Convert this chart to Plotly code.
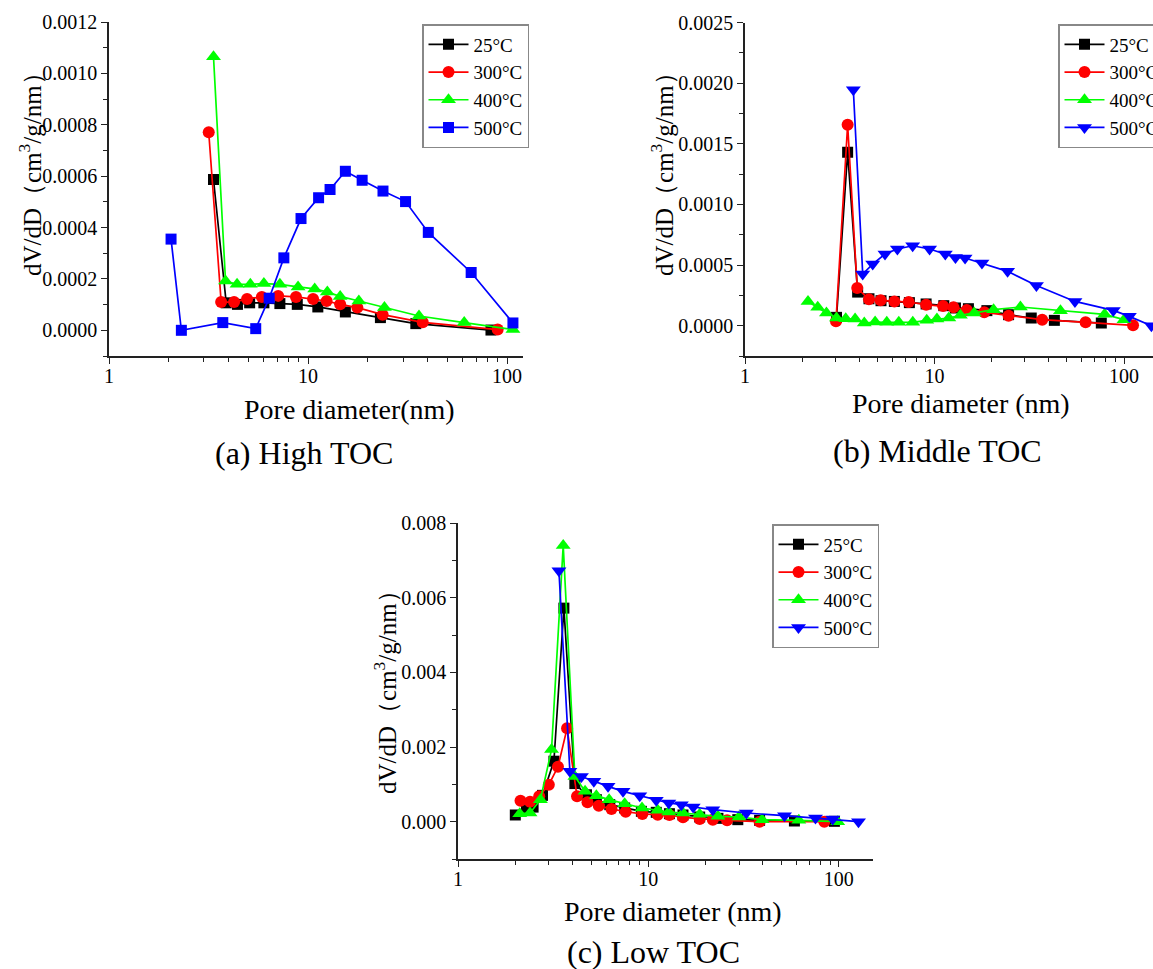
import plotly.graph_objects as go

W, H = 1153, 969
FONT = "Liberation Serif"
temps = ["25°C", "300°C", "400°C", "500°C"]
colors = ["#000000", "#FF0000", "#00FF00", "#0000FF"]

# ---------- (a) High TOC ----------
a_x_25 = [3.35, 3.88, 4.42, 5.09, 6.0, 7.22, 8.83, 11.2, 15.4, 23.1, 34.8, 83]
a_y_25 = [0.000587, 0.000107, 0.000101, 0.000107, 0.000107, 0.000104, 0.000101, 0.0000909, 0.0000714, 0.0000494, 0.000026, 0.000001]
a_x_300 = [3.17, 3.66, 4.25, 4.94, 5.86, 7.08, 8.7, 10.6, 12.4, 14.5, 17.7, 23.7, 37.7, 89.7]
a_y_300 = [0.000771, 0.00011, 0.00011, 0.000122, 0.00013, 0.000134, 0.00013, 0.000122, 0.000114, 0.000101, 0.0000883, 0.000061, 0.000031, 0.000003]
a_x_400 = [3.35, 3.85, 4.40, 5.13, 6.0, 7.22, 8.91, 10.8, 12.5, 14.5, 18.0, 24.2, 36.1, 60.9, 107]
a_y_400 = [0.001065, 0.000192, 0.000179, 0.000179, 0.000182, 0.000179, 0.000169, 0.000161, 0.000149, 0.000132, 0.000114, 0.0000883, 0.0000558, 0.00003, 0.000003]
a_x_500 = [2.05, 2.31, 3.73, 5.46, 6.38, 7.56, 9.22, 11.3, 12.9, 15.4, 18.7, 23.8, 30.9, 40.2, 66, 107]
a_y_500 = [0.000355, 0.0000, 0.00003, 0.0000065, 0.000125, 0.000282, 0.000435, 0.000516, 0.000548, 0.000619, 0.000584, 0.000542, 0.000501, 0.000381, 0.000225, 0.0000286]

# ---------- (b) Middle TOC ----------
b_x_25 = [3.04, 3.48, 3.93, 4.51, 5.22, 6.14, 7.37, 9.03, 11.2, 12.9, 15.1, 18.9, 24.6, 32.4, 42.9, 75.9]
b_y_25 = [0.0000687, 0.00143, 0.000277, 0.000222, 0.000206, 0.0002, 0.00019, 0.000179, 0.000165, 0.000146, 0.00014, 0.000124, 0.0000907, 0.0000632, 0.000044, 0.000022]
b_x_300 = [3.02, 3.48, 3.91, 4.51, 5.2, 6.14, 7.31, 9.03, 11.1, 12.6, 14.8, 18.3, 24.6, 37, 62.7, 111.6]
b_y_300 = [0.0000357, 0.001657, 0.00031, 0.000217, 0.000209, 0.0002, 0.000195, 0.000173, 0.000162, 0.000151, 0.000129, 0.00011, 0.0000824, 0.0000495, 0.0000275, 0.0000027]
b_x_400 = [2.15, 2.42, 2.69, 3.04, 3.4, 3.81, 4.26, 4.86, 5.6, 6.48, 7.68, 9.1, 10.3, 11.9, 13.7, 16.2, 20.5, 28.4, 46.2, 79, 100]
b_y_400 = [0.0002, 0.000151, 0.000104, 0.0000632, 0.0000577, 0.000055, 0.000022, 0.00003, 0.0000275, 0.0000275, 0.0000275, 0.000044, 0.000055, 0.000063, 0.000085, 0.000104, 0.000132, 0.000154, 0.000124, 0.0000934, 0.0000495]
b_x_500 = [3.73, 4.18, 4.72, 5.48, 6.37, 7.67, 9.42, 11.4, 12.9, 14.5, 17.8, 24.3, 34.5, 55.1, 87.8, 106.7, 139.5]
b_y_500 = [0.001945, 0.000426, 0.000508, 0.000591, 0.000632, 0.000659, 0.000632, 0.000591, 0.000563, 0.000558, 0.000516, 0.000448, 0.000332, 0.0002, 0.000126, 0.0000769, 0.0]

# ---------- (c) Low TOC ----------
c_x_25 = [2.0, 2.29, 2.48, 2.78, 3.19, 3.6, 4.11, 4.73, 5.33, 6.27, 7.51, 9.19, 11.0, 12.9, 15.2, 18.6, 23.2, 29.5, 38.4, 58.5, 94.9]
c_y_25 = [0.000179, 0.00032, 0.00039, 0.000705, 0.00162, 0.00572, 0.00102, 0.00072, 0.00059, 0.000455, 0.000366, 0.000277, 0.00025, 0.000214, 0.000179, 0.000125, 0.0000893, 0.0000536, 0.0000357, 0.0000179, 0.0000089]
c_x_300 = [2.13, 2.39, 2.67, 3.0, 3.35, 3.74, 4.22, 4.79, 5.49, 6.4, 7.6, 9.3, 11.2, 12.9, 15.2, 18.6, 21.8, 25.9, 38.4, 84]
c_y_300 = [0.000563, 0.000536, 0.000679, 0.000991, 0.00147, 0.0025, 0.000679, 0.000518, 0.000429, 0.000339, 0.000268, 0.000205, 0.000188, 0.000179, 0.000116, 0.0000714, 0.0000536, 0.0000357, 0.0, 0.0]
c_x_400 = [2.11, 2.39, 2.71, 3.1, 3.57, 4.11, 4.65, 5.33, 6.22, 7.51, 9.26, 11.2, 12.8, 15.2, 18.6, 23.2, 29.9, 39.6, 61.7, 98.8]
c_y_400 = [0.000214, 0.000232, 0.000589, 0.00193, 0.0074, 0.00121, 0.000813, 0.000696, 0.000589, 0.000482, 0.000366, 0.000304, 0.000259, 0.000232, 0.000196, 0.000143, 0.000125, 0.0000536, 0.0000357, 0.0]
c_x_500 = [3.39, 3.87, 4.45, 5.17, 6.14, 7.36, 9.01, 11.0, 12.8, 14.9, 17.2, 21.8, 32.7, 51.9, 75.5, 93.0, 127]
c_y_500 = [0.00672, 0.00135, 0.00121, 0.00108, 0.000946, 0.000813, 0.000696, 0.000571, 0.0005, 0.000455, 0.000393, 0.000321, 0.000232, 0.000161, 0.0000982, 0.0000714, 0.0]

panels = [
    dict(xs=[a_x_25, a_x_300, a_x_400, a_x_500], ys=[a_y_25, a_y_300, a_y_400, a_y_500],
         symbols=["square", "circle", "triangle-up", "square"]),
    dict(xs=[b_x_25, b_x_300, b_x_400, b_x_500], ys=[b_y_25, b_y_300, b_y_400, b_y_500],
         symbols=["square", "circle", "triangle-up", "triangle-down"]),
    dict(xs=[c_x_25, c_x_300, c_x_400, c_x_500], ys=[c_y_25, c_y_300, c_y_400, c_y_500],
         symbols=["square", "circle", "triangle-up", "triangle-down"]),
]
msize = {"square": 11, "circle": 12, "triangle-up": 13, "triangle-down": 13}

fig = go.Figure()
for p, panel in enumerate(panels):
    sfx = "" if p == 0 else str(p + 1)
    for i in range(4):
        sym = panel["symbols"][i]
        fig.add_trace(go.Scatter(
            x=panel["xs"][i], y=panel["ys"][i], name=temps[i],
            mode="lines+markers",
            line=dict(color=colors[i], width=1.7),
            marker=dict(symbol=sym, size=msize[sym], color=colors[i]),
            xaxis="x" + sfx, yaxis="y" + sfx,
            legend="legend" + sfx,
        ))

def px2x(px):
    return px / W

def py2y(py):
    return 1 - py / H

axis_common = dict(showline=True, linecolor="#222", linewidth=1.5, ticks="outside",
                   ticklen=6, tickwidth=1.3, tickcolor="#222", showgrid=False, zeroline=False,
                   tickfont=dict(family=FONT, size=20, color="black"))

def xaxis(dom, rng, anchor):
    d = dict(axis_common)
    d.update(type="log", domain=dom, range=rng, anchor=anchor, dtick=1,
             ticklabelstandoff=-5,
             minor=dict(ticks="outside", ticklen=4, dtick="D1", tickcolor="#222", showgrid=False))
    return d

def yaxis(dom, rng, dtick, fmt, anchor):
    d = dict(axis_common)
    d.update(domain=dom, range=rng, anchor=anchor, dtick=dtick, tick0=0, tickformat=fmt,
             minor=dict(ticks="outside", ticklen=4, dtick=dtick / 2, tickcolor="#222", showgrid=False))
    return d

legend_common = dict(xanchor="left", yanchor="top", bordercolor="#888", borderwidth=1.5,
                     bgcolor="white", font=dict(family=FONT, size=19, color="black"),
                     itemwidth=40, tracegroupgap=0)

fig.update_layout(
    width=W, height=H,
    margin=dict(l=0, r=0, t=0, b=0, autoexpand=False),
    paper_bgcolor="white", plot_bgcolor="white",
    font=dict(family=FONT, color="black"),
    xaxis=xaxis([px2x(109), px2x(523)], [0, 2.08], "y"),
    yaxis=yaxis([py2y(356), py2y(22)], [-0.0001, 0.0012], 0.0002, ".4f", "x"),
    xaxis2=xaxis([px2x(745), 1.0], [0, 2.153], "y2"),
    yaxis2=yaxis([py2y(356), py2y(22.5)], [-0.00025, 0.0025], 0.0005, ".4f", "x2"),
    xaxis3=xaxis([px2x(458), px2x(873)], [0, 2.18], "y3"),
    yaxis3=yaxis([py2y(859), py2y(523)], [-0.001, 0.008], 0.002, ".3f", "x3"),
    legend=dict(legend_common, x=px2x(422), y=py2y(24)),
    legend2=dict(legend_common, x=px2x(1058), y=py2y(24)),
    legend3=dict(legend_common, x=px2x(772), y=py2y(524)),
)

ytitle = "dV/dD（cm<sup>3</sup>/g/nm）"
annos = [
    (30, 168, ytitle, 25, -90),
    (662, 168, ytitle, 25, -90),
    (385, 686, ytitle, 25, -90),
    (349, 409, "Pore diameter(nm)", 28, 0),
    (961, 403, "Pore diameter (nm)", 28, 0),
    (673, 911, "Pore diameter (nm)", 28, 0),
    (304, 453, "(a) High TOC", 32, 0),
    (938, 451, "(b) Middle TOC", 32, 0),
    (653, 952, "(c) Low TOC", 32, 0),
]
for x, y, t, s, ang in annos:
    fig.add_annotation(x=px2x(x), y=py2y(y), xref="paper", yref="paper", text=t,
                       showarrow=False, textangle=ang, xanchor="center", yanchor="middle",
                       font=dict(family=FONT, size=s, color="black"))

fig.write_html("out.html")
